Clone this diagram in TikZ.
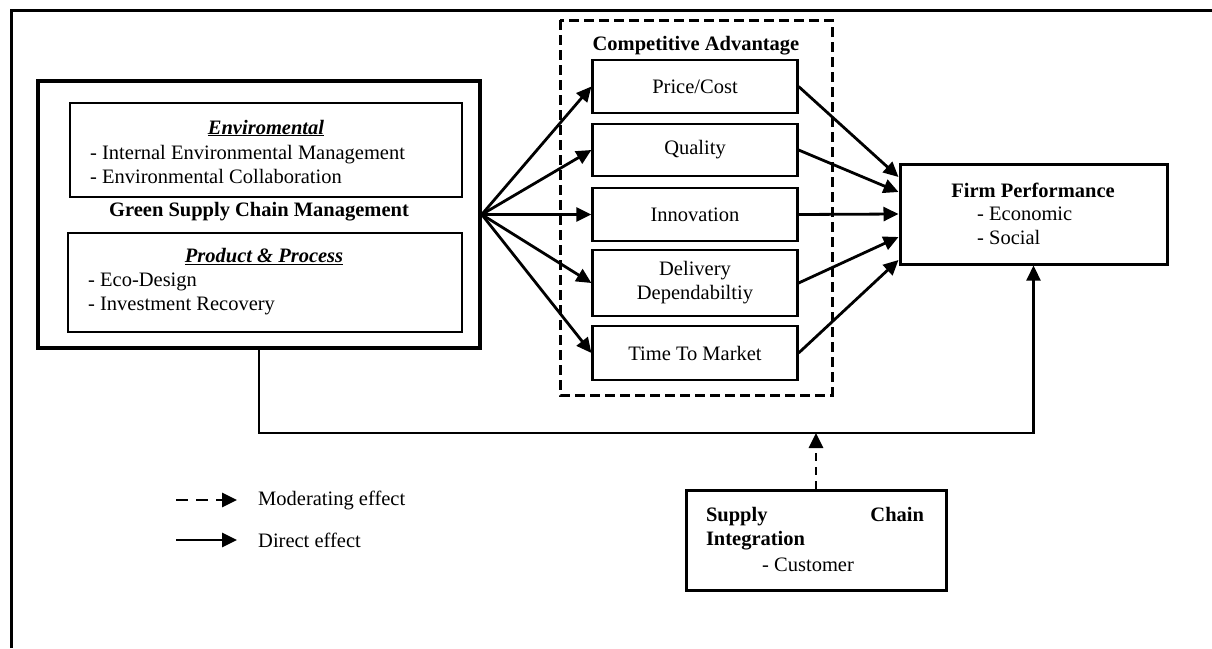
\documentclass[tikz,border=0pt]{standalone}
\usepackage{fontspec}
\setmainfont{Liberation Serif}
\usepackage{tikz}
\usetikzlibrary{arrows.meta}

\tikzset{
    txt/.style={font=\fontsize{20.5}{24}\selectfont, inner sep=0pt},
    cabox/.style={draw, line width=2.2pt, minimum width=205pt, txt, align=center},
    direct/.style={line width=2.8pt, -{Triangle[length=15pt, width=14pt]}},
    moderate/.style={line width=2.8pt, dash pattern=on 8pt off 6pt, -{Triangle[length=15pt, width=14pt]}}
}

\begin{document}
\begin{tikzpicture}[x=1pt, y=-1pt]
    \useasboundingbox (0,0) rectangle (1212,648);
    % Frame
    \draw[line width=3pt] (11.5,648) -- (11.5,10.5) -- (1212,10.5);
    % Green Supply Chain Management
    \node[draw, line width=3.5pt, minimum width=442pt, minimum height=267pt] (gscm) at (259,214.5) {};
    \node[draw, line width=2.5pt, minimum width=392pt, minimum height=94pt] (envbox) at (266,150) {};
    \node[txt] (envtitle) at (266,128) {\textbf{\textit{\underline{Enviromental}}}};
    \node[txt, align=left, anchor=west] (envlist) at (90,164) {- Internal Environmental Management\\- Environmental Collaboration};
    \node[txt] (gscmlbl) at (259,212) {\textbf{Green Supply Chain Management}};
    \node[draw, line width=2.5pt, minimum width=394pt, minimum height=99pt] (prodbox) at (265,282.5) {};
    \node[txt] (prodtitle) at (264,257) {\textbf{\textit{\underline{Product \& Process}}}};
    \node[txt, align=left, anchor=west] (prodlist) at (88,294) {- Eco-Design\\- Investment Recovery};
    % Competitive Advantage
    \draw[line width=3pt, dash pattern=on 10pt off 5pt] (560,20) rectangle (832,395);
    \node[txt] (calbl) at (696,46) {\textbf{Competitive Advantage}};
    \foreach \n/\y/\h/\t in {price/86.5/53/{Price/Cost}, quality/150/52/Quality, innov/214.5/53/Innovation,
        deliv/283/66/{Delivery\\Dependabiltiy}, ttm/353/54/Time To Market}
        \node[cabox, minimum height=\h pt] (\n) at (695,\y) {\t};
    % Firm Performance
    \node[draw, line width=3pt, minimum width=267pt, minimum height=100pt] (fp) at (1033.5,214) {};
    \node[txt] (fptitle) at (1033,190) {\textbf{Firm Performance}};
    \node[txt, align=left, anchor=west] (fplist) at (977,226) {- Economic\\- Social};
    % Supply Chain Integration
    \node[draw, line width=3pt, minimum width=260pt, minimum height=100pt] (sci) at (816,540) {};
    \node[txt, text width=218pt, align=left] (scititle) at (815,529) {\textbf{Supply\hfill Chain}\\\textbf{Integration}};
    \node[txt, anchor=west] (scilist) at (762,565) {- Customer};
    % Arrows
    \foreach \n in {price,quality,innov,deliv,ttm}
        \draw[direct] (gscm.east) -- (\n.west);
    \foreach \n/\s in {price/37,quality/22,innov/0,deliv/-23,ttm/-46}
        \draw[direct] (\n.east) -- ([yshift=\s pt]fp.west);
    \coordinate (mod) at (816,433);
    \draw[direct, line width=2.2pt] (gscm.south) |- (mod) -| (fp.south);
    \draw[moderate] (sci.north) -- (mod);
    % Legend
    \node[txt, anchor=west] (modlbl) at (258,500) {Moderating effect};
    \node[txt, anchor=west] (dirlbl) at (258,540) {Direct effect};
    \draw[line width=2.8pt, dash pattern=on 12pt off 8pt, -{Triangle[length=15pt, width=14pt]}] ([xshift=-82pt]modlbl.west) -- ([xshift=-21pt]modlbl.west);
    \draw[direct] ([xshift=-82pt]dirlbl.west) -- ([xshift=-21pt]dirlbl.west);
\end{tikzpicture}
\end{document}
